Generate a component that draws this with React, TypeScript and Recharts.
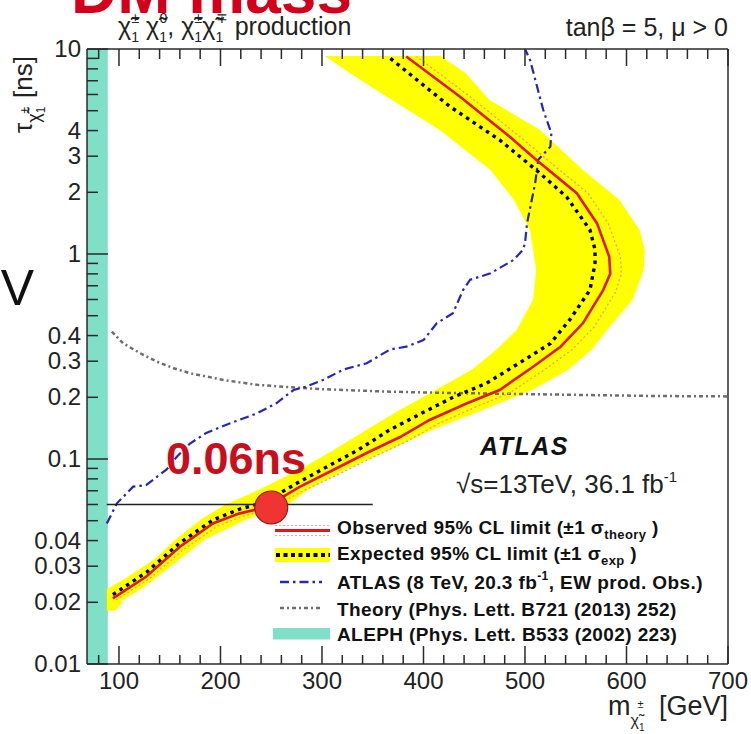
import React from "react";
import {
  ComposedChart,
  Line,
  Area,
  XAxis,
  YAxis,
  ReferenceArea,
  ReferenceLine,
  ReferenceDot,
  Legend,
} from "recharts";

// axis ticks
const xTicks = [80, 100, 120, 140, 160, 180, 200, 220, 240, 260, 280, 300, 320, 340, 360, 380, 400, 420, 440, 460, 480, 500, 520, 540, 560, 580, 600, 620, 640, 660, 680, 700];
const yTicks = [0.01, 0.02, 0.03, 0.04, 0.05, 0.06, 0.07, 0.08, 0.09, 0.1, 0.2, 0.3, 0.4, 0.5, 0.6, 0.7, 0.8, 0.9, 1, 2, 3, 4, 5, 6, 7, 8, 9, 10];
const yLabels = [0.01, 0.02, 0.03, 0.04, 0.1, 0.2, 0.3, 0.4, 1, 2, 3, 4, 10];
const yDecades = [0.01, 0.1, 1, 10];

// observed 95% CL limit (lifetime in ns, chargino mass in GeV)
const obsTau = [0.0209, 0.0267, 0.0373, 0.0486, 0.0543, 0.0568, 0.0643, 0.0732, 0.0884, 0.107, 0.128, 0.155, 0.187, 0.217, 0.282, 0.353, 0.459, 0.667, 0.8, 0.97, 1.41, 1.98, 2.88, 3.73, 5.85, 9.2];
const obsMass = [94, 127, 160, 193, 219, 236, 259, 278, 311, 344, 377, 406, 443, 475, 508, 535, 557, 577, 584, 583, 571, 551, 511, 485, 436, 383];

// observed +1 sigma theory
const obsHiTau = [0.0205, 0.026, 0.036, 0.047, 0.053, 0.0555, 0.063, 0.071, 0.085, 0.103, 0.123, 0.149, 0.18, 0.209, 0.27, 0.34, 0.44, 0.65, 0.8, 0.97, 1.41, 1.98, 2.88, 3.73, 5.85, 9.2];
const obsHiMass = [97, 130, 163, 197, 224, 241, 264, 284, 318, 352, 385, 415, 452, 484, 518, 546, 568, 589, 595, 594, 582, 562, 522, 495, 446, 393];

// expected 95% CL limit
const expTau = [0.0218, 0.028, 0.039, 0.0505, 0.057, 0.06, 0.067, 0.0765, 0.0917, 0.111, 0.138, 0.167, 0.201, 0.234, 0.293, 0.366, 0.477, 0.667, 0.9, 1.05, 1.31, 1.9, 2.57, 3.6, 5.24, 9.2];
const expMass = [94, 127, 160, 193, 219, 236, 256, 276, 305, 336, 366, 398, 430, 462, 494, 525, 544, 564, 569, 569, 564, 541, 511, 475, 426, 365];

// expected +-1 sigma band
const bandTau = [0.0182, 0.0207, 0.0232, 0.0259, 0.0324, 0.0406, 0.0508, 0.06, 0.0711, 0.089, 0.111, 0.139, 0.174, 0.218, 0.273, 0.342, 0.427, 0.599, 0.838, 1.05, 1.31, 1.84, 2.57, 4.03, 5.64, 7.6, 9.25];
const bandLo = [88, 88, 88, 105, 135, 156, 181, 205, 239, 278, 312, 344, 377, 413, 448, 472, 492, 508, 511, 508, 505, 489, 466, 416, 369, 328, 303];
const bandHi = [97, 105, 122, 135, 160, 185, 226, 267, 287, 324, 367, 409, 459, 508, 543, 566, 581, 606, 617, 618, 613, 593, 557, 515, 465, 442, 417];

// ATLAS 8 TeV
const atlasTau = [0.0485, 0.0608, 0.0733, 0.0747, 0.089, 0.1026, 0.119, 0.134, 0.149, 0.167, 0.187, 0.217, 0.226, 0.243, 0.273, 0.293, 0.342, 0.353, 0.38, 0.459, 0.514, 0.667, 0.749, 0.805, 0.937, 1.05, 1.13, 1.41, 2.21, 2.88, 3.34, 3.88, 5.04, 8.84, 10];
const atlasMass = [88, 98, 114, 127, 147, 157, 170, 186, 209, 236, 255, 272, 285, 301, 321, 344, 367, 383, 400, 413, 429, 439, 446, 466, 489, 498, 500, 502, 510, 513, 525, 526, 518, 505, 500];

// theory
const theoryMass = [93, 104, 121, 137, 154, 170, 203, 236, 269, 301, 367, 426, 623, 700];
const theoryTau = [0.418, 0.367, 0.328, 0.299, 0.277, 0.262, 0.243, 0.23, 0.224, 0.219, 0.213, 0.21, 0.203, 0.202];

const alephLimit = 89;
const markMass = 250;
const markTau = 0.058;
const markLine = [88, 350];
const markLevel = 0.06;

const obsData = obsTau.map((tau, i) => ({ tau, mass: obsMass[i] }));
const obsHiData = obsHiTau.map((tau, i) => ({ tau, mass: obsHiMass[i] }));
const expData = expTau.map((tau, i) => ({ tau, mass: expMass[i] }));
const bandData = bandTau.map((tau, i) => ({ tau, band: [bandLo[i], bandHi[i]] }));
const atlasData = atlasTau.map((tau, i) => ({ tau, mass: atlasMass[i] }));
const theoryData = theoryMass.map((mass, i) => ({ tau: theoryTau[i], mass }));

const FONT = '"Liberation Sans", Arial, Helvetica, sans-serif';
const AXIS = "#2a2a2a";
const YELLOW = "#ffff00";
const TEAL = "#7fdfc7";
const RED = "#e3161b";
const BLUE = "#2626b8";
const GREY = "#6e6e6e";

const BottomTick = (props: any) => {
  const { x, y, payload } = props;
  const v = payload.value;
  const major = v % 100 === 0;
  return (
    <g>
      <line x1={x} x2={x} y1={y} y2={y - (major ? 18 : 9)} stroke={AXIS} strokeWidth={1.5} />
      {major && (
        <text x={x} y={y + 25} textAnchor="middle" fontSize={24} fontFamily={FONT} fill="#222">
          {v}
        </text>
      )}
    </g>
  );
};

const TopTick = (props: any) => {
  const { x, y, payload } = props;
  const major = payload.value % 100 === 0;
  return <line x1={x} x2={x} y1={y} y2={y + (major ? 17 : 10)} stroke={AXIS} strokeWidth={1.5} />;
};

const LeftTick = (props: any) => {
  const { x, y, payload } = props;
  const v = payload.value;
  const len = yDecades.includes(v) ? 21 : 11;
  return (
    <g>
      <line x1={x} x2={x + len} y1={y} y2={y} stroke={AXIS} strokeWidth={1.5} />
      {yLabels.includes(v) && (
        <text x={x - 6} y={y + 8} textAnchor="end" fontSize={24} fontFamily={FONT} fill="#222">
          {String(v)}
        </text>
      )}
    </g>
  );
};

const RightTick = (props: any) => {
  const { x, y, payload } = props;
  const len = yDecades.includes(payload.value) ? 20 : 10;
  return <line x1={x} x2={x - len} y1={y} y2={y} stroke={AXIS} strokeWidth={1.5} />;
};

// chi-tilde with stacked sub/superscript, positioned from a fixed baseline
const chi = (sup: string, after: string, k: string, base: number, size: number) => [
  <tspan key={k + "a"} y={base}>χ̃</tspan>,
  <tspan key={k + "b"} fontSize={size * 0.56} y={base + 7}>1</tspan>,
  <tspan key={k + "c"} fontSize={size * 0.56} dx={-size * 0.3} y={base - 12}>{sup}</tspan>,
  after ? <tspan key={k + "d"} y={base}>{after}</tspan> : null,
];

const legendRows = [
  { label: "Observed 95% CL limit (±1 σ", sub: "theory", tail: " )" },
  { label: "Expected 95% CL limit (±1 σ", sub: "exp", tail: " )" },
  { label: "ATLAS (8 TeV, 20.3 fb", sup: "-1", tail: ", EW prod. Obs.)" },
  { label: "Theory (Phys. Lett. B721 (2013) 252)" },
  { label: "ALEPH (Phys. Lett. B533 (2002) 223)" },
];
const legendBase = [534, 560, 589, 615.5, 640.5];

const LegendBox = () => (
  <svg width={480} height={140} viewBox="260 510 480 140" style={{ display: "block" }}>
    <line x1={275} x2={330} y1={525.5} y2={525.5} stroke="#f5a3a3" strokeWidth={1.2} strokeDasharray="2 2" />
    <line x1={275} x2={330} y1={535.5} y2={535.5} stroke="#f5a3a3" strokeWidth={1.2} strokeDasharray="2 2" />
    <line x1={275} x2={330} y1={530.5} y2={530.5} stroke={RED} strokeWidth={3} />
    <rect x={275} y={548} width={55} height={14} fill={YELLOW} />
    <line x1={276} x2={330} y1={555} y2={555} stroke="#000" strokeWidth={4} strokeDasharray="4 3.5" />
    <line x1={280} x2={322} y1={582} y2={582} stroke={BLUE} strokeWidth={2.5} strokeDasharray="9 4 2.5 4" />
    <line x1={280} x2={322} y1={608} y2={608} stroke={GREY} strokeWidth={2.5} strokeDasharray="4 3 2 3" />
    <rect x={273} y={628} width={57} height={11.5} fill={TEAL} />
    {legendRows.map((r, i) => {
      const b = legendBase[i];
      return (
        <text key={i} x={337} y={b} fontSize={19} fontWeight="bold" letterSpacing={0.4} fontFamily={FONT} fill="#111">
          {r.label}
          {r.sub && <tspan fontSize={13} y={b + 5}>{r.sub}</tspan>}
          {r.sup && <tspan fontSize={12} y={b - 9}>{r.sup}</tspan>}
          {r.tail && <tspan y={b}>{r.tail}</tspan>}
        </text>
      );
    })}
  </svg>
);

export default function App() {
  return (
    <div style={{ position: "absolute", left: 0, top: 0, width: 751, height: 734, background: "#fff", overflow: "hidden" }}>
      <ComposedChart
        width={751}
        height={734}
        layout="vertical"
        margin={{ top: 48, right: 22, bottom: 40, left: 27 }}
      >
        <XAxis
          type="number"
          domain={[68.5, 700]}
          allowDataOverflow
          ticks={xTicks}
          interval={0}
          tick={BottomTick}
          tickLine={false}
          tickSize={0}
          tickMargin={0}
          height={30}
          axisLine={{ stroke: AXIS, strokeWidth: 1.5 }}
        />
        <XAxis
          xAxisId="top"
          orientation="top"
          type="number"
          domain={[68.5, 700]}
          allowDataOverflow
          ticks={xTicks}
          interval={0}
          tick={TopTick}
          tickLine={false}
          tickSize={0}
          tickMargin={0}
          height={1}
          axisLine={{ stroke: AXIS, strokeWidth: 1.5 }}
        />
        <YAxis
          type="number"
          dataKey="tau"
          scale="log"
          domain={[0.01, 10]}
          reversed
          allowDataOverflow
          ticks={yTicks}
          interval={0}
          tick={LeftTick}
          tickLine={false}
          tickSize={0}
          tickMargin={0}
          width={60}
          axisLine={{ stroke: AXIS, strokeWidth: 1.5 }}
        />
        <YAxis
          yAxisId="right"
          orientation="right"
          type="number"
          scale="log"
          domain={[0.01, 10]}
          reversed
          allowDataOverflow
          ticks={yTicks}
          interval={0}
          tick={RightTick}
          tickLine={false}
          tickSize={0}
          tickMargin={0}
          width={1}
          axisLine={{ stroke: AXIS, strokeWidth: 1.5 }}
        />

        <ReferenceArea x1={68.5} x2={alephLimit} fill={TEAL} fillOpacity={1} stroke="none" ifOverflow="hidden" />

        <Area data={bandData} dataKey="band" type="linear" fill={YELLOW} fillOpacity={1} stroke="none" isAnimationActive={false} />
        <Line data={theoryData} dataKey="mass" type="linear" stroke={GREY} strokeWidth={2.5} strokeDasharray="4 3 2 3" dot={false} isAnimationActive={false} />
        <Line data={atlasData} dataKey="mass" type="linear" stroke={BLUE} strokeWidth={2.2} strokeDasharray="9 4 2.5 4" dot={false} isAnimationActive={false} />
        <Line data={obsHiData} dataKey="mass" type="linear" stroke="#f39a7c" strokeWidth={1.3} strokeDasharray="2 2.5" dot={false} isAnimationActive={false} />
        <Line data={expData} dataKey="mass" type="linear" stroke="#000" strokeWidth={3.4} strokeDasharray="3.5 4.5" dot={false} isAnimationActive={false} />
        <Line data={obsData} dataKey="mass" type="linear" stroke={RED} strokeWidth={2.6} dot={false} isAnimationActive={false} />

        <ReferenceLine
          segment={[{ x: markLine[0], y: markLevel }, { x: markLine[1], y: markLevel }]}
          stroke="#222"
          strokeWidth={1.5}
        />
        <ReferenceDot x={markMass} y={markTau} r={16.5} fill="#ef3431" stroke="#8a1c1c" strokeWidth={1.2} />

        <Legend
          layout="horizontal"
          verticalAlign="middle"
          align="center"
          wrapperStyle={{ left: 260, top: 510, width: 480, height: 140 }}
          content={() => <LegendBox />}
        />
      </ComposedChart>

      <svg
        width={751}
        height={734}
        style={{ position: "absolute", left: 0, top: 0, pointerEvents: "none" }}
        fontFamily={FONT}
      >
        <text x={352} y={13} textAnchor="end" fontSize={64} fontWeight="bold" fill="#d3001b">DM mass</text>
        <text x={34} y={305} textAnchor="end" fontSize={50} fill="#111">eV</text>

        <text x={118} y={35} fontSize={25} fill="#222">
          {chi("±", "\u00a0", "c1", 35, 25)}
          {chi("0", ",\u00a0", "c2", 35, 25)}
          {chi("±", "", "c3", 35, 25)}
          {chi("∓", "\u00a0production", "c4", 35, 25)}
        </text>
        <text x={728} y={36} textAnchor="end" fontSize={25} fill="#222">tanβ = 5, μ &gt; 0</text>

        <text transform="translate(32,133) rotate(-90)" fontSize={26} fill="#222">
          <tspan y={0}>τ</tspan>
          <tspan fontSize={18} y={8}>χ̃</tspan>
          <tspan fontSize={12} y={13}>1</tspan>
          <tspan fontSize={12} dx={-7} y={-3}>±</tspan>
          <tspan dx={9} y={0}>[ns]</tspan>
        </text>

        <text x={608} y={715} fontSize={27} fill="#222">
          <tspan y={715}>m</tspan>
          <tspan fontSize={16} y={726}>χ̃</tspan>
          <tspan fontSize={10} y={731}>1</tspan>
          <tspan fontSize={11} dx={-7} y={708}>±</tspan>
          <tspan x={659} y={715}>[GeV]</tspan>
        </text>

        <text x={480} y={455} fontSize={25} fontWeight="bold" fontStyle="italic" letterSpacing={1.5} fill="#111">ATLAS</text>
        <text x={456} y={493} fontSize={26} fill="#222">
          √s=13TeV, 36.1 fb
          <tspan fontSize={15} y={482}>-1</tspan>
        </text>

        <text x={166} y={474} fontSize={45} fontWeight="bold" fill="#c8101c">0.06ns</text>
      </svg>
    </div>
  );
}
